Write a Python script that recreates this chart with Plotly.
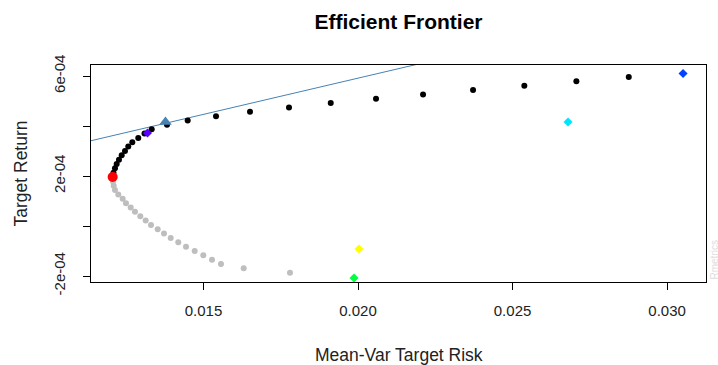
import plotly.graph_objects as go

# Frontier points (target returns uniformly spaced)
frontier_return = [5.960e-4, 5.786e-4, 5.612e-4, 5.438e-4, 5.264e-4, 5.090e-4, 4.916e-4, 4.742e-4,
                   4.568e-4, 4.394e-4, 4.220e-4, 4.046e-4, 3.872e-4, 3.699e-4, 3.525e-4, 3.351e-4,
                   3.177e-4, 3.003e-4, 2.829e-4, 2.655e-4, 2.481e-4, 2.307e-4, 2.133e-4, 1.959e-4]
frontier_risk = [0.028761, 0.027065, 0.025382, 0.023722, 0.022104, 0.020583, 0.019117, 0.017767,
                 0.016505, 0.015405, 0.014489, 0.013819, 0.013324, 0.013091, 0.012890, 0.012696,
                 0.012566, 0.012460, 0.012353, 0.012265, 0.012191, 0.012136, 0.012087, 0.012061]

# Inefficient part (grey)
lower_return = [1.785e-4, 1.611e-4, 1.437e-4, 1.263e-4, 1.089e-4, 0.915e-4, 0.741e-4, 0.567e-4,
                0.393e-4, 0.219e-4, 0.045e-4, -0.129e-4, -0.303e-4, -0.477e-4, -0.651e-4, -0.825e-4,
                -0.999e-4, -1.172e-4, -1.346e-4, -1.520e-4, -1.694e-4, -1.868e-4]
lower_risk = [0.012071, 0.012094, 0.012136, 0.012243, 0.012385, 0.012492, 0.012644, 0.012783,
              0.012955, 0.013129, 0.013301, 0.013518, 0.013722, 0.013939, 0.014184, 0.014434,
              0.014715, 0.014994, 0.015275, 0.015566, 0.016301, 0.017799]

# Special portfolios
minvar_risk, minvar_return = [0.012061], [1.959e-4]
tangency_risk, tangency_return = [0.01377], [4.16e-4]

# Single assets (diamonds)
asset_risk = [0.013188, 0.030518, 0.026796, 0.020032, 0.019871]
asset_return = [3.72e-4, 6.10e-4, 4.16e-4, -0.92e-4, -2.08e-4]
asset_colors = ["#5A00FF", "#0044FF", "#00E5FF", "#FFFF00", "#00FF40"]

# Tangency (capital market) line endpoints
cml_risk = [0.0, 0.04]
cml_return = [1.2e-5, 1.2e-5 + 0.02897 * 0.04]

x_ticks = [0.015, 0.020, 0.025, 0.030]
x_ticktext = ["0.015", "0.020", "0.025", "0.030"]
y_ticks = [-2e-4, 0, 2e-4, 4e-4, 6e-4]
y_ticktext = ["-2e-04", "", "2e-04", "", "6e-04"]

FONT = "Liberation Sans, Arial, sans-serif"

fig = go.Figure()
fig.add_trace(go.Scatter(x=cml_risk, y=cml_return, mode="lines",
                         line=dict(color="#4682B4", width=1), hoverinfo="skip"))
fig.add_trace(go.Scatter(x=lower_risk, y=lower_return, mode="markers",
                         marker=dict(color="#BEBEBE", size=6)))
fig.add_trace(go.Scatter(x=frontier_risk, y=frontier_return, mode="markers",
                         marker=dict(color="black", size=6)))
fig.add_trace(go.Scatter(x=minvar_risk, y=minvar_return, mode="markers",
                         marker=dict(color="red", size=10)))
fig.add_trace(go.Scatter(x=tangency_risk, y=tangency_return, mode="markers",
                         marker=dict(color="#4682B4", size=11, symbol="triangle-up")))
fig.add_trace(go.Scatter(x=asset_risk, y=asset_return, mode="markers",
                         marker=dict(color=asset_colors, size=7, symbol="diamond")))

fig.update_layout(
    width=718, height=365, autosize=False,
    margin=dict(l=91, r=12, t=65, b=83, autoexpand=False),
    paper_bgcolor="white", plot_bgcolor="white",
    showlegend=False,
    font=dict(family=FONT, size=15, color="black"),
    title=dict(text="<b>Efficient Frontier</b>", x=398.5 / 718, xanchor="center",
               y=1 - 22 / 365, yanchor="middle", yref="container",
               font=dict(family=FONT, size=21, color="black")),
    xaxis=dict(range=[0.01136, 0.03126], tickvals=x_ticks, ticktext=x_ticktext,
               showgrid=False, zeroline=False, showline=True, mirror=True,
               linecolor="black", linewidth=1, ticks="outside", ticklen=7,
               tickcolor="black", ticklabelstandoff=8, automargin=False,
               tickfont=dict(family=FONT, size=15, color="#222222")),
    yaxis=dict(range=[-2.24e-4, 6.44e-4], tickvals=y_ticks, ticktext=y_ticktext,
               showgrid=False, zeroline=False, showline=True, mirror=True,
               linecolor="black", linewidth=1, ticks="outside", ticklen=7,
               tickcolor="black", tickangle=-90, ticklabelstandoff=12, automargin=False,
               tickfont=dict(family=FONT, size=15, color="#222222")),
    annotations=[
        dict(text="Mean-Var Target Risk", xref="paper", yref="paper", x=0.5, y=0,
             yshift=-73, xanchor="center", yanchor="middle", showarrow=False,
             font=dict(family=FONT, size=17.5, color="#222222")),
        dict(text="Target Return", xref="paper", yref="paper", x=0, y=0.5,
             xshift=-71, xanchor="center", yanchor="middle", textangle=-90, showarrow=False,
             font=dict(family=FONT, size=17.5, color="#222222")),
        dict(text="Rmetrics", xref="paper", yref="paper", x=1, y=0,
             xshift=8, xanchor="center", yanchor="bottom", textangle=-90, showarrow=False,
             font=dict(family=FONT, size=10, color="#DDDDDD")),
    ],
)

fig.write_html("out.html", config={"displayModeBar": False},
               post_script="document.body.style.margin='0px';")
